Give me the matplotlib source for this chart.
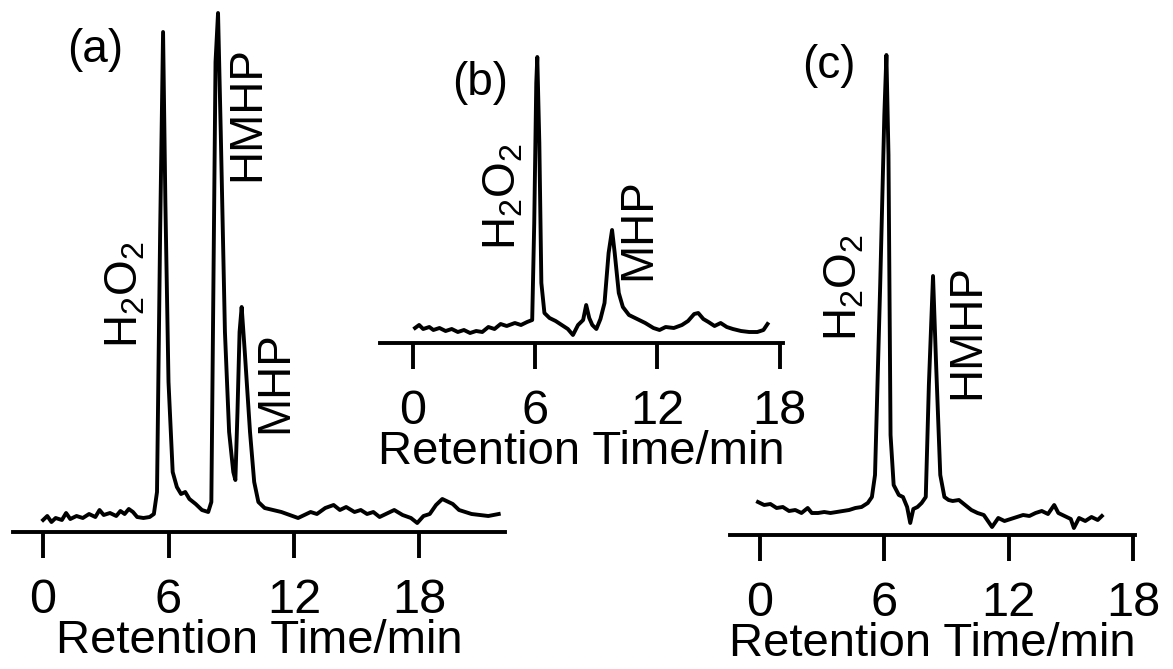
import matplotlib.pyplot as plt
import numpy as np

plt.rcParams['font.family'] = ['Liberation Sans', 'DejaVu Sans']
plt.rcParams['mathtext.fontset'] = 'custom'
plt.rcParams['mathtext.rm'] = 'Liberation Sans'

# retention time (min) and detector signal (arbitrary units)
t_a = [0.0, 0.2, 0.4, 0.6, 0.9, 1.1, 1.3, 1.6, 1.9, 2.2, 2.5, 2.7, 2.9, 3.2, 3.5, 3.7,
       3.9, 4.1, 4.3, 4.5, 4.8, 5.1, 5.3, 5.45, 5.6, 5.74, 5.85, 6.0, 6.2, 6.4, 6.6, 6.8,
       7.0, 7.3, 7.6, 7.9, 8.05, 8.15, 8.25, 8.37, 8.5, 8.7, 8.9, 9.1, 9.2, 9.3, 9.4, 9.5,
       9.65, 9.9, 10.1, 10.3, 10.6, 11.0, 11.4, 11.8, 12.2, 12.5, 12.8, 13.1, 13.5, 13.9,
       14.2, 14.5, 14.9, 15.2, 15.5, 15.8, 16.1, 16.5, 16.8, 17.2, 17.6, 17.9, 18.2, 18.5,
       18.8, 19.1, 19.3, 19.6, 19.9, 20.2, 20.5, 20.9, 21.3, 21.8]
s_a = [12, 16, 10, 14, 12, 19, 13, 16, 14, 18, 15, 22, 17, 19, 16, 21,
       18, 23, 20, 15, 14, 15, 18, 40, 300, 500, 330, 150, 60, 45, 38, 40,
       33, 28, 22, 20, 30, 250, 470, 519, 400, 200, 100, 60, 52, 120, 200, 225,
       180, 100, 50, 30, 24, 22, 20, 17, 14, 17, 20, 18, 24, 27,
       22, 25, 20, 22, 18, 20, 15, 19, 22, 17, 14, 9, 16, 18,
       27, 33, 31, 28, 22, 20, 18, 17, 16, 18]

t_b = [0.1, 0.3, 0.5, 0.8, 1.0, 1.3, 1.6, 1.9, 2.2, 2.5, 2.8, 3.1, 3.4, 3.7, 4.0, 4.3,
       4.6, 5.0, 5.3, 5.6, 5.85, 5.95, 6.05, 6.1, 6.2, 6.3, 6.45, 6.7, 7.0, 7.3, 7.6, 7.85,
       8.1, 8.35, 8.5, 8.65, 8.8, 9.0, 9.2, 9.4, 9.6, 9.77, 9.9, 10.1, 10.3, 10.6, 11.0,
       11.4, 11.8, 12.1, 12.4, 12.8, 13.2, 13.5, 13.8, 14.0, 14.25, 14.5, 14.8, 15.1, 15.4,
       15.7, 16.1, 16.5, 16.9, 17.2, 17.4]
s_b = [15, 18, 14, 16, 13, 15, 12, 14, 11, 13, 10, 12, 11, 16, 14, 19,
       17, 20, 18, 21, 23, 120, 260, 286, 200, 60, 30, 25, 22, 18, 14, 8,
       18, 23, 38, 25, 18, 14, 24, 40, 90, 113, 90, 50, 36, 28, 24,
       20, 15, 13, 16, 15, 18, 22, 29, 30, 24, 21, 17, 20, 16,
       14, 12, 11, 11, 13, 19]

t_c = [-0.1, 0.2, 0.5, 0.8, 1.1, 1.4, 1.7, 2.0, 2.3, 2.5, 2.8, 3.1, 3.4, 3.7, 4.0, 4.3,
       4.6, 4.9, 5.2, 5.4, 5.55, 5.8, 6.0, 6.1, 6.2, 6.3, 6.45, 6.7, 6.9, 7.1, 7.25, 7.4,
       7.6, 7.8, 8.0, 8.15, 8.35, 8.5, 8.7, 8.9, 9.1, 9.3, 9.6, 9.9, 10.2, 10.5, 10.8,
       11.0, 11.2, 11.5, 11.8, 12.1, 12.4, 12.7, 13.0, 13.3, 13.6, 13.9, 14.2, 14.4, 14.7,
       15.0, 15.15, 15.4, 15.7, 16.0, 16.3, 16.5]
s_c = [33, 30, 31, 27, 28, 24, 25, 22, 27, 22, 22, 23, 22, 23, 24, 25,
       27, 28, 32, 38, 60, 250, 420, 480, 380, 100, 50, 40, 38, 28, 12, 26,
       28, 32, 38, 150, 259, 170, 60, 38, 35, 34, 35, 30, 25, 22, 20,
       14, 8, 17, 14, 16, 18, 20, 19, 22, 24, 21, 30, 22, 19,
       16, 7, 17, 14, 18, 15, 19]

ticks = [0, 6, 12, 18]
panels = ['(a)', '(b)', '(c)']
h2o2 = r'H$_{\mathregular{2}}$O$_{\mathregular{2}}$'

W, H = 1173, 669
fig = plt.figure(figsize=(W / 100, H / 100), dpi=100)


def px_axes(x0, x1, ybase, ytop):
    # axes placed by pixel box of the original figure
    return fig.add_axes([x0 / W, (H - ybase) / H, (x1 - x0) / W, (ybase - ytop) / H],
                        facecolor='none')


def style(ax, xlim, ylim):
    ax.set_xlim(*xlim)
    ax.set_ylim(*ylim)
    for s in ['top', 'right', 'left']:
        ax.spines[s].set_visible(False)
    ax.spines['bottom'].set_linewidth(2.8)
    ax.set_yticks([])
    ax.set_xticks(ticks)
    ax.tick_params(axis='x', direction='out', length=19, width=2.8, pad=14, labelsize=35)
    ax.set_xlabel('Retention Time/min', fontsize=34, labelpad=-3)


ax_a = px_axes(13, 505, 532, 0)
ax_a.plot(t_a, s_a, color='black', lw=2.8)
style(ax_a, (-1.44, 22.1), (0, 532))
ax_a.text(3.92, 238, h2o2, rotation=90, fontsize=33, ha='center', va='center')
ax_a.text(9.76, 418, 'HMHP', rotation=90, fontsize=33, ha='center', va='center')
ax_a.text(11.1, 150, 'MHP', rotation=90, fontsize=33, ha='center', va='center')

ax_b = px_axes(380, 783, 343, 40)
ax_b.plot(t_b, s_b, color='black', lw=2.8)
style(ax_b, (-1.62, 18.16), (0, 303))
ax_b.text(4.42, 147, h2o2, rotation=90, fontsize=33, ha='center', va='center')
ax_b.text(11.05, 114, 'MHP', rotation=90, fontsize=33, ha='center', va='center')

ax_c = px_axes(730, 1135, 535, 0)
ax_c.plot(t_c, s_c, color='black', lw=2.8)
style(ax_c, (-1.45, 18.1), (0, 535))
ax_c.text(4.10, 248, h2o2, rotation=90, fontsize=33, ha='center', va='center')
ax_c.text(9.99, 203, 'HMHP', rotation=90, fontsize=33, ha='center', va='center')

for lab, (px, py) in zip(panels, [(95, 50), (480, 83), (829, 66)]):
    fig.text(px / W, 1 - py / H, lab, fontsize=33, ha='center', va='center')

fig.savefig('out.png', dpi=100)
